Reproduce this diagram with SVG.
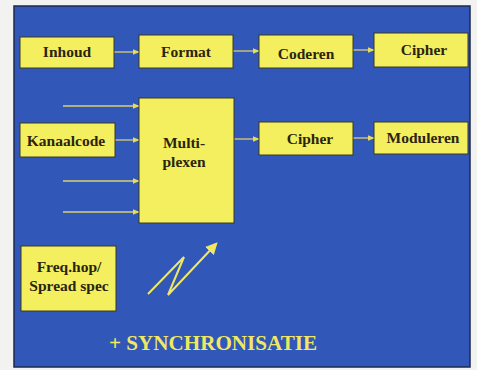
<svg xmlns="http://www.w3.org/2000/svg" width="477" height="370" viewBox="0 0 477 370">
<defs>
<style>
.box{fill:#f4ef5e;stroke:#3a3a20;stroke-width:1}
.lbl{font-family:"Liberation Serif","Times New Roman","DejaVu Serif",serif;font-weight:bold;font-size:15.5px;fill:#2a2410;text-anchor:middle}
.sync{font-family:"Liberation Serif","Times New Roman","DejaVu Serif",serif;font-weight:bold;font-size:20px;fill:#f0e860}
.con{stroke:#d8cf70;stroke-width:1.3;fill:none;marker-end:url(#ah)}
</style>
<marker id="ah" viewBox="0 0 10 10" refX="9" refY="5" markerWidth="7" markerHeight="7" markerUnits="userSpaceOnUse" orient="auto">
<path d="M0,1 L10,5 L0,9 Z" fill="#e6dc60"/>
</marker>
<marker id="ah2" viewBox="0 0 10 10" refX="8" refY="5" markerWidth="12" markerHeight="12" markerUnits="userSpaceOnUse" orient="auto">
<path d="M0,0 L10,5 L0,10 Z" fill="#f0e860"/>
</marker>
</defs>
<rect width="477" height="370" fill="#f2f2f0"/>
<rect x="14" y="6" width="456" height="361" fill="#3157b9" stroke="#1c2a50" stroke-width="1.5"/>
<g id="connectors">
<line class="con" x1="114" y1="52" x2="139" y2="52"/>
<line class="con" x1="233" y1="51" x2="259" y2="51"/>
<line class="con" x1="353" y1="50" x2="374" y2="50"/>
<line class="con" x1="63" y1="106" x2="139" y2="106"/>
<line class="con" x1="115" y1="140" x2="139" y2="140"/>
<line class="con" x1="63" y1="181" x2="139" y2="181"/>
<line class="con" x1="63" y1="212" x2="139" y2="212"/>
<line class="con" x1="234" y1="139" x2="259" y2="139"/>
<line class="con" x1="353" y1="138" x2="374" y2="138"/>
</g>
<g id="bolt">
<polyline points="148,294 184,257 168,295 216,244" fill="none" stroke="#f0e860" stroke-width="2" stroke-linejoin="miter" marker-end="url(#ah2)"/>
</g>
<g id="inhoud"><rect class="box" x="20" y="37" width="94" height="31"/><text class="lbl" x="67" y="57">Inhoud</text></g>
<g id="format"><rect class="box" x="139" y="35" width="94" height="33"/><text class="lbl" x="186" y="57">Format</text></g>
<g id="coderen"><rect class="box" x="259" y="35" width="94" height="33"/><text class="lbl" x="306" y="59">Coderen</text></g>
<g id="cipher1"><rect class="box" x="374" y="33" width="94" height="34"/><text class="lbl" x="424" y="55">Cipher</text></g>
<g id="kanaalcode"><rect class="box" x="20" y="123" width="95" height="34"/><text class="lbl" x="66" y="146">Kanaalcode</text></g>
<g id="multiplexen"><rect class="box" x="139" y="98" width="95" height="125"/><text class="lbl" x="184" y="148">Multi-</text><text class="lbl" x="184" y="167">plexen</text></g>
<g id="cipher2"><rect class="box" x="259" y="122" width="94" height="33"/><text class="lbl" x="310" y="144">Cipher</text></g>
<g id="moduleren"><rect class="box" x="374" y="122" width="94" height="32"/><text class="lbl" x="423" y="143">Moduleren</text></g>
<g id="freqhop"><rect class="box" x="21" y="246" width="95" height="65"/><text class="lbl" x="69" y="272">Freq.hop/</text><text class="lbl" x="69" y="291">Spread spec</text></g>
<text class="sync" x="109" y="350" textLength="208" lengthAdjust="spacingAndGlyphs">+ SYNCHRONISATIE</text>
</svg>
